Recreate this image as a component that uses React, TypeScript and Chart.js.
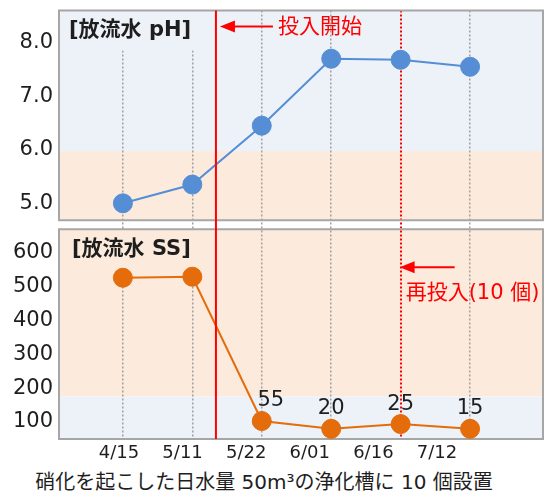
import React, { useEffect, useRef } from 'react';
import { Chart, registerables } from 'chart.js';

Chart.register(...registerables);

// ---- data ----
const dates = ['4/15', '5/11', '5/22', '6/01', '6/16', '7/12'];
const phValues = [5.0, 5.35, 6.45, 7.7, 7.68, 7.55];
const ssValues = [525, 528, 103, 80, 94, 80];
const ssLabels = ['', '', '55', '20', '25', '15'];
const phTicks = [5, 6, 7, 8];
const ssTicks = [100, 200, 300, 400, 500, 600];
const phBandTop = 5.97; // orange zone below this pH
const ssBandBottom = 175; // orange zone above this SS
const startIndex = 1.34; // 投入開始 position (between 5/11 and 5/22)
const redoseIndex = 4; // 再投入 at 6/16
const phTitle = '[放流水 pH]';
const ssTitle = '[放流水 SS]';
const startText = '投入開始';
const redoseText = '再投入(10 個)';
const caption = '硝化を起こした日水量 50m³の浄化槽に 10 個設置';

// ---- styles ----
const FONT = "'DejaVu Sans', 'Noto Sans CJK JP', sans-serif";
const BLUE_BG = '#EDF2F9';
const ORANGE_BG = '#FCEBDD';
const BORDER = '#A6A6A6';
const PH_COLOR = '#558ED5';
const SS_COLOR = '#E46C0A';
const RED = '#FF0000';
const GRID = '#A0A0A0';
const TEXT = '#1E1E1E';
const GAP = 4.5;

const panelPlugin = {
  id: 'panels',
  beforeDraw(chart: any) {
    const { ctx, chartArea: a, scales } = chart;
    const yP = scales.yPh;
    const yS = scales.ySs;
    const pTop = yP.top, pBot = yP.bottom - GAP;
    const sTop = yS.top + GAP, sBot = yS.bottom;
    ctx.save();
    ctx.fillStyle = BLUE_BG;
    ctx.fillRect(a.left, pTop, a.width, pBot - pTop);
    const band = yP.getPixelForValue(phBandTop);
    ctx.fillStyle = ORANGE_BG;
    ctx.fillRect(a.left, band, a.width, pBot - band);
    const sb = yS.getPixelForValue(ssBandBottom);
    ctx.fillStyle = ORANGE_BG;
    ctx.fillRect(a.left, sTop, a.width, sb - sTop);
    ctx.fillStyle = BLUE_BG;
    ctx.fillRect(a.left, sb, a.width, sBot - sb);
    ctx.restore();
  },
  beforeDatasetsDraw(chart: any) {
    const { ctx, chartArea: a, scales } = chart;
    const yP = scales.yPh;
    const yS = scales.ySs;
    const xS = scales.x;
    const pTop = yP.top, pBot = yP.bottom - GAP;
    const sTop = yS.top + GAP, sBot = yS.bottom;
    const cut = xS.getPixelForValue(1.2);
    ctx.save();
    // title areas hide the grid lines
    ctx.fillStyle = BLUE_BG;
    ctx.fillRect(a.left, pTop, cut - a.left, 40);
    ctx.fillStyle = ORANGE_BG;
    ctx.fillRect(a.left, sTop, cut - a.left, yS.getPixelForValue(ssValues[0]) - sTop);
    // borders
    ctx.strokeStyle = BORDER;
    ctx.lineWidth = 2;
    ctx.strokeRect(a.left, pTop, a.width, pBot - pTop);
    ctx.strokeRect(a.left, sTop, a.width, sBot - sTop);
    // titles
    ctx.fillStyle = TEXT;
    ctx.font = `bold 21px ${FONT}`;
    ctx.textBaseline = 'middle';
    ctx.textAlign = 'left';
    ctx.fillText(phTitle, a.left + 10, pTop + 20);
    ctx.fillText(ssTitle, a.left + 13, sTop + 20);
    ctx.restore();
  },
  afterDatasetsDraw(chart: any) {
    const { ctx, chartArea: a, scales } = chart;
    const yP = scales.yPh;
    const yS = scales.ySs;
    const xS = scales.x;
    const pTop = yP.top;
    const sTop = yS.top + GAP;
    ctx.save();
    // start line
    const sx = xS.getPixelForValue(startIndex);
    ctx.strokeStyle = RED;
    ctx.lineWidth = 2;
    ctx.beginPath();
    ctx.moveTo(sx, a.top);
    ctx.lineTo(sx, a.bottom);
    ctx.stroke();

    const arrow = (tip: number, tail: number, y: number) => {
      ctx.strokeStyle = RED;
      ctx.fillStyle = RED;
      ctx.lineWidth = 2;
      ctx.beginPath();
      ctx.moveTo(tail, y);
      ctx.lineTo(tip + 10, y);
      ctx.stroke();
      ctx.beginPath();
      ctx.moveTo(tip, y);
      ctx.lineTo(tip + 15, y - 6);
      ctx.lineTo(tip + 15, y + 6);
      ctx.closePath();
      ctx.fill();
    };
    // start arrow + text
    const t1 = sx + 4;
    arrow(t1, t1 + 53, pTop + 16);
    ctx.font = `21px ${FONT}`;
    ctx.textBaseline = 'middle';
    ctx.textAlign = 'left';
    ctx.fillStyle = RED;
    ctx.fillText(startText, t1 + 58, pTop + 17);
    // redose arrow + text
    const rx = xS.getPixelForValue(redoseIndex);
    arrow(rx - 1, rx + 54, sTop + 38);
    ctx.fillStyle = RED;
    ctx.fillText(redoseText, rx + 5, sTop + 64);

    // data labels
    ctx.fillStyle = TEXT;
    ctx.font = `21px ${FONT}`;
    ctx.textAlign = 'center';
    ssLabels.forEach((lab, i) => {
      if (!lab) return;
      const dx = i === 2 ? 9 : 0;
      ctx.fillText(lab, xS.getPixelForValue(i) + dx, yS.getPixelForValue(ssValues[i]) - 20);
    });
    ctx.restore();
  },
};

export default function App() {
  const ref = useRef<HTMLCanvasElement>(null);
  useEffect(() => {
    const tickFont = { family: FONT, size: 21 };
    const fitY = (s: any) => {
      s.width = 50;
      s.paddingTop = 0;
      s.paddingBottom = 0;
    };
    const dateTicks = (s: any) => {
      s.ticks = dates.map((_, i) => ({ value: i }));
    };
    const chart = new Chart(ref.current as HTMLCanvasElement, {
      type: 'line',
      data: {
        datasets: [
          {
            label: 'pH',
            data: phValues.map((v, i) => ({ x: i, y: v })),
            yAxisID: 'yPh',
            borderColor: PH_COLOR,
            backgroundColor: PH_COLOR,
            borderWidth: 2,
            pointRadius: 9.5,
            pointHoverRadius: 9.5,
            pointBorderWidth: 1,
            tension: 0,
          },
          {
            label: 'SS',
            data: ssValues.map((v, i) => ({ x: i, y: v })),
            yAxisID: 'ySs',
            borderColor: SS_COLOR,
            backgroundColor: SS_COLOR,
            borderWidth: 2,
            pointRadius: 9.5,
            pointHoverRadius: 9.5,
            pointBorderWidth: 1,
            tension: 0,
          },
        ],
      },
      options: {
        animation: false,
        responsive: true,
        maintainAspectRatio: false,
        layout: { padding: { left: 9, top: 10, right: 11, bottom: 0 } },
        plugins: { legend: { display: false }, tooltip: { enabled: false } },
        scales: {
          x: {
            type: 'linear',
            position: 'bottom',
            min: -0.92,
            max: 6.05,
            afterBuildTicks: dateTicks,
            afterFit: (s: any) => {
              s.height = 0;
              s.paddingLeft = 0;
              s.paddingRight = 0;
            },
            ticks: { display: false, autoSkip: false },
            grid: {
              color: (c: any) => (c.index === redoseIndex ? RED : GRID),
              lineWidth: (c: any) => (c.index === redoseIndex ? 2 : 1.5),
              drawTicks: false,
            },
            border: { display: false, dash: [2, 2] },
          },
          xLabels: {
            type: 'linear',
            position: 'bottom',
            min: -0.943,
            max: 6.667,
            afterBuildTicks: dateTicks,
            afterFit: (s: any) => {
              s.height = 27;
              s.paddingLeft = 0;
              s.paddingRight = 0;
            },
            ticks: {
              callback: (v: any) => dates[v],
              font: { family: FONT, size: 18 },
              color: TEXT,
              padding: 4,
              maxRotation: 0,
              autoSkip: false,
            },
            grid: { display: false, drawTicks: false },
            border: { display: false },
          },
          yPh: {
            type: 'linear',
            position: 'left',
            stack: 'panels',
            stackWeight: 1,
            weight: 2,
            min: 4.6,
            max: 8.6,
            afterBuildTicks: (s: any) => {
              s.ticks = phTicks.map((v) => ({ value: v }));
            },
            afterFit: fitY,
            ticks: {
              callback: (v: any) => Number(v).toFixed(1),
              font: tickFont,
              color: TEXT,
              padding: 6,
              autoSkip: false,
            },
            grid: { display: false, drawTicks: false },
            border: { display: false },
          },
          ySs: {
            type: 'linear',
            position: 'left',
            stack: 'panels',
            stackWeight: 1,
            weight: 1,
            min: 50,
            max: 681,
            afterBuildTicks: (s: any) => {
              s.ticks = ssTicks.map((v) => ({ value: v }));
            },
            afterFit: fitY,
            ticks: {
              callback: (v: any) => String(v),
              font: tickFont,
              color: TEXT,
              padding: 6,
              autoSkip: false,
            },
            grid: { display: false, drawTicks: false },
            border: { display: false },
          },
        },
      } as any,
      plugins: [panelPlugin],
    });
    return () => chart.destroy();
  }, []);

  return (
    <div style={{ position: 'fixed', left: 0, top: 0, width: 554, height: 494, background: '#fff' }}>
      <div style={{ position: 'absolute', left: 0, top: 0, width: 554, height: 466 }}>
        <canvas ref={ref} />
      </div>
      <div
        style={{
          position: 'absolute',
          left: 0,
          top: 470,
          width: 528,
          textAlign: 'center',
          fontFamily: FONT,
          fontSize: 20,
          lineHeight: '24px',
          color: TEXT,
          whiteSpace: 'nowrap',
        }}
      >
        {caption}
      </div>
    </div>
  );
}
